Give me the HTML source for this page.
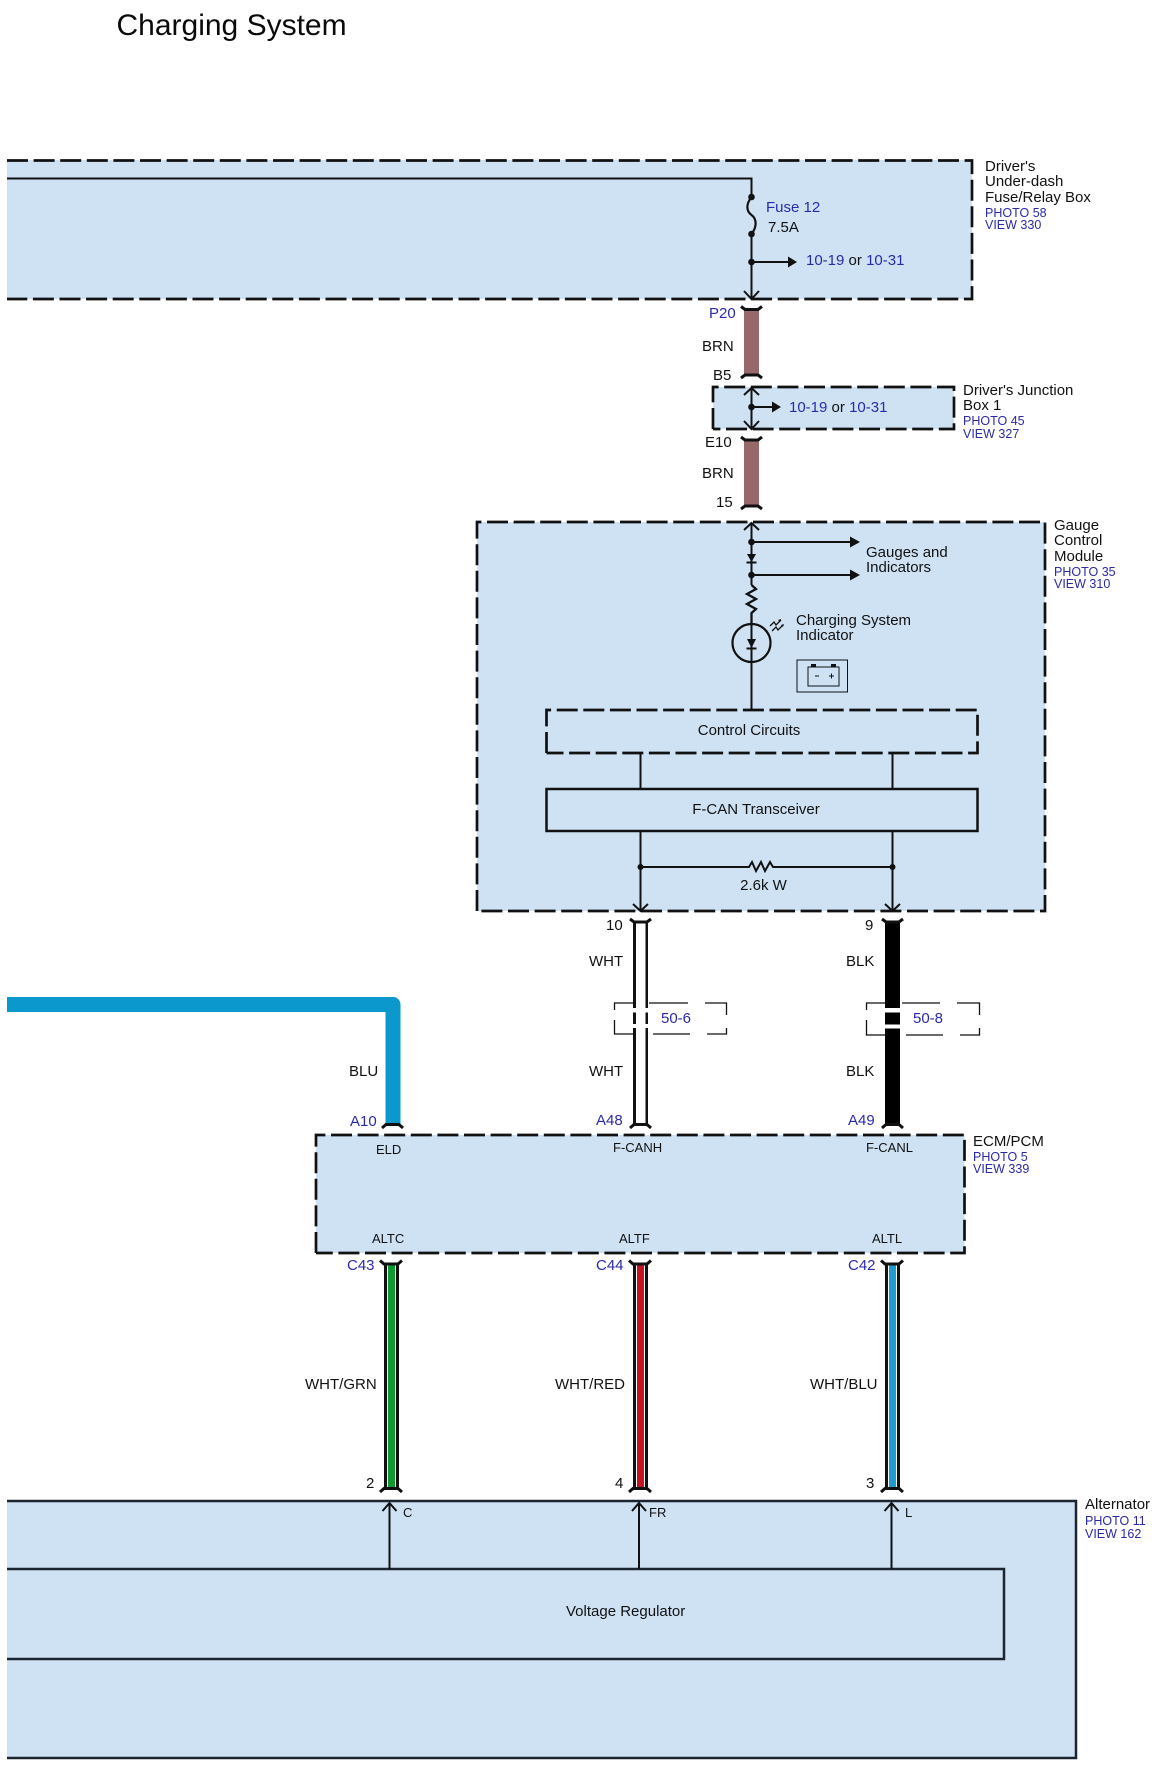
<!DOCTYPE html>
<html><head><meta charset="utf-8"><title>Charging System</title>
<style>
html,body{margin:0;padding:0;background:#fff;width:1167px;height:1774px;overflow:hidden}
svg{display:block}
text{font-family:"Liberation Sans",sans-serif;font-size:15px;fill:#111}
.b{fill:#2a2aa8}
.s{font-size:12.5px}
.m{font-size:13px}
.box{fill:#cfe2f4}
.d{fill:none;stroke:#111;stroke-width:2.7;stroke-dasharray:21 5.6}
.l{fill:none;stroke:#111;stroke-width:2}
.t{fill:none;stroke:#111;stroke-width:1.3}
.c{fill:none;stroke:#111;stroke-width:3}
.dot{fill:#111}
</style></head><body>
<svg width="1167" height="1774" viewBox="0 0 1167 1774" xmlns="http://www.w3.org/2000/svg">
<rect width="1167" height="1774" fill="#fff"/>
<text x="116.500" y="35" style="font-size:30px;fill:#0a0a0a">Charging System</text>

<!-- Fuse box -->
<rect class="box" x="7" y="160" width="965" height="139"/>
<path class="d" d="M7 160.500H972V299H7"/>
<path class="l" d="M7 178.500H751.500V197"/>
<path class="l" style="stroke-width:2.200" d="M751.500 197C746 204 746 211 751.500 215C757 219 757 227 751.500 234"/>
<path class="l" d="M751.500 234V299"/>
<path class="l" d="M744 291L751.500 299L759 291"/>
<circle class="dot" cx="751.500" cy="197" r="3.300"/><circle class="dot" cx="751.500" cy="234" r="3.300"/><circle class="dot" cx="751.500" cy="262" r="3.300"/>
<path class="l" d="M751.500 262H790"/><path class="dot" d="M788 256.500L797 262L788 267.500Z"/>
<text class="b" x="766" y="212">Fuse 12</text>
<text x="768" y="232">7.5A</text>
<text x="806" y="265"><tspan class="b">10-19</tspan> or <tspan class="b">10-31</tspan></text>
<text x="985" y="171">Driver's</text><text x="985" y="186">Under-dash</text><text x="985" y="202">Fuse/Relay Box</text>
<text class="b s" x="985" y="217">PHOTO 58</text><text class="b s" x="985" y="229">VIEW 330</text>

<!-- Brown wires -->
<rect x="744" y="309" width="15" height="66" fill="#96686a"/>
<rect x="744" y="439" width="15" height="67" fill="#96686a"/>
<path class="c" d="M741 306.500L745 309.500H758L762 306.500"/>
<path class="c" d="M741 378L745 375H758L762 378"/>
<path class="c" d="M741 437L745 440H758L762 437"/>
<path class="c" d="M741 509L745 506H758L762 509"/>
<text class="b" x="709" y="318">P20</text>
<text x="702" y="351">BRN</text>
<text x="713" y="380">B5</text>
<text x="705" y="447">E10</text>
<text x="702" y="478">BRN</text>
<text x="716" y="507">15</text>

<!-- Junction box -->
<rect class="box" x="713" y="387" width="241" height="42"/>
<path class="d" d="M713 429V387H954V429H713"/>
<path class="l" d="M751.500 388V429M744 395L751.500 388L759 395M744 421L751.500 429L759 421"/>
<circle class="dot" cx="751.500" cy="407" r="3.300"/>
<path class="l" d="M751.500 407H775"/><path class="dot" d="M772 401.500L781 407L772 412.500Z"/>
<text x="789" y="412"><tspan class="b">10-19</tspan> or <tspan class="b">10-31</tspan></text>
<text x="963" y="395">Driver's Junction</text><text x="963" y="410">Box 1</text>
<text class="b s" x="963" y="425">PHOTO 45</text><text class="b s" x="963" y="438">VIEW 327</text>

<!-- Gauge module -->
<rect class="box" x="477" y="522" width="568" height="389"/>
<path class="d" d="M477 911V522H1045V911H477"/>
<path class="l" d="M751.500 523V585M744 530L751.500 523L759 530"/>
<circle class="dot" cx="751.500" cy="542" r="3.300"/><circle class="dot" cx="751.500" cy="575" r="3.300"/>
<path class="l" d="M751.500 542H852M751.500 575H852"/>
<path class="dot" d="M850 536.500L860 542L850 547.500ZM850 569.500L860 575L850 580.500Z"/>
<path class="dot" d="M747 554H756L751.500 562Z"/><path class="l" d="M746.500 562.500H756.500"/>
<text x="866" y="557">Gauges and</text><text x="866" y="572">Indicators</text>
<path class="l" style="stroke-width:2.300" d="M751.500 585L756 589L747 594L756 599L747 604L756 609L751.500 613V624"/>
<circle cx="751.500" cy="643" r="19" fill="none" stroke="#111" stroke-width="2.200"/>
<path class="l" d="M751.500 624V710"/>
<path class="dot" d="M747 639H756L751.500 648Z"/><path class="l" d="M746.500 648.500H756.500"/>
<path class="t" d="M770 626L774 622L776 625L781 620M772 631L776 627L778 630L783 625"/>
<path class="dot" d="M781 619L778 620L780 622ZM784 624L781 625L783 627Z"/>
<text x="796" y="625">Charging System</text><text x="796" y="640">Indicator</text>
<rect x="797" y="660" width="50.500" height="32" fill="none" stroke="#111" stroke-width="1"/>
<rect x="808" y="667" width="31" height="19" fill="none" stroke="#111" stroke-width="1"/>
<rect x="811" y="664" width="5" height="3" fill="#111"/><rect x="831" y="664" width="5" height="3" fill="#111"/>
<path d="M815 676H819M829 676H834M831.500 673.500V678.500" fill="none" stroke="#111" stroke-width="1"/>

<rect class="box" x="546.500" y="710" width="431" height="43"/>
<path class="d" d="M546.500 753V710H977.500V753H546.500"/>
<text x="749" y="735" text-anchor="middle">Control Circuits</text>
<path class="l" d="M640.500 753V789M892.500 753V789"/>
<rect x="546.500" y="789" width="431" height="42" fill="#cfe2f4" stroke="#111" stroke-width="2.500"/>
<text x="756" y="814" text-anchor="middle">F-CAN Transceiver</text>
<path class="l" d="M640.500 831V911M892.500 831V911M633 904L640.500 911L648 904M885 904L892.500 911L900 904"/>
<circle class="dot" cx="640.500" cy="867" r="3"/><circle class="dot" cx="892.500" cy="867" r="3"/>
<path class="l" d="M640.500 867H749L752 862L756 871L761 862L765 871L770 862L773 867H892.500"/>
<text x="763.500" y="890" text-anchor="middle">2.6k W</text>
<text x="1054" y="530">Gauge</text><text x="1054" y="545">Control</text><text x="1054" y="561">Module</text>
<text class="b s" x="1054" y="576">PHOTO 35</text><text class="b s" x="1054" y="588">VIEW 310</text>

<!-- Upper CAN wires -->
<rect x="633" y="921" width="15" height="204" fill="#111"/><rect x="636" y="921" width="9.500" height="204" fill="#fff"/>
<rect x="885" y="921" width="15" height="204" fill="#000"/>
<path class="c" d="M630 919L634 922H647L651 919"/>
<path class="c" d="M882 919L886 922H899L903 919"/>
<path class="c" d="M630 1128L634 1124.500H647L651 1128"/>
<path class="c" d="M882 1128L886 1124.500H899L903 1128"/>
<text x="606" y="930">10</text><text x="865" y="930">9</text>
<text x="589" y="966">WHT</text><text x="846" y="966">BLK</text>
<text x="589" y="1076">WHT</text><text x="846" y="1076">BLK</text>
<text class="b" x="596" y="1125">A48</text><text class="b" x="848" y="1125">A49</text>

<!-- Splices -->
<rect x="631" y="1008" width="19" height="4.500" fill="#fff"/><rect x="631" y="1024" width="19" height="4" fill="#fff"/>
<rect x="883" y="1008" width="19" height="4.500" fill="#fff"/><rect x="883" y="1024.500" width="19" height="4" fill="#fff"/>
<path fill="none" stroke="#111" stroke-width="1.300" d="M633 1003H614.500V1010M614.500 1020V1034H633M649 1003H688M705 1003H726.500V1015M726.500 1028V1034H707M690 1034H653"/>
<path fill="none" stroke="#111" stroke-width="1.300" d="M885 1003H866.500V1010M866.500 1020V1035H885M902 1003H940M957 1003H979.500V1015M979.500 1028V1035H960M943 1035H906"/>
<text class="b" x="661" y="1023">50-6</text><text class="b" x="913" y="1023">50-8</text>

<!-- Blue wire -->
<path d="M7 1004.500H393V1125" fill="none" stroke="#0b98cd" stroke-width="15" stroke-linejoin="round"/>
<path class="c" d="M382 1128L386 1124.500H399L403 1128"/>
<text x="349" y="1076">BLU</text>
<text class="b" x="350" y="1126">A10</text>

<!-- ECM -->
<rect class="box" x="316" y="1135" width="648.500" height="118"/>
<path class="d" d="M316 1253V1135H964.500V1253H316"/>
<text class="m" x="376" y="1154">ELD</text><text class="m" x="613" y="1152">F-CANH</text><text class="m" x="866" y="1152">F-CANL</text>
<text class="m" x="372" y="1243">ALTC</text><text class="m" x="619" y="1243">ALTF</text><text class="m" x="872" y="1243">ALTL</text>
<text x="973" y="1146">ECM/PCM</text>
<text class="b s" x="973" y="1161">PHOTO 5</text><text class="b s" x="973" y="1173">VIEW 339</text>

<!-- Lower wires -->
<rect x="384" y="1264" width="15" height="225" fill="#111"/><rect x="387" y="1264" width="9" height="225" fill="#fff"/><rect x="388" y="1264" width="7" height="225" fill="#0e9a2e"/>
<rect x="633" y="1264" width="15" height="225" fill="#111"/><rect x="636" y="1264" width="9" height="225" fill="#fff"/><rect x="637" y="1264" width="7" height="225" fill="#c5131f"/>
<rect x="885" y="1264" width="15" height="225" fill="#111"/><rect x="888" y="1264" width="9" height="225" fill="#fff"/><rect x="889" y="1264" width="7" height="225" fill="#1e9bcf"/>
<path class="c" d="M380 1260.500L384 1264H398L402 1260.500"/>
<path class="c" d="M629 1260.500L633 1264H647L651 1260.500"/>
<path class="c" d="M881 1260.500L885 1264H899L903 1260.500"/>
<path class="c" d="M380 1492L384 1488.500H398L402 1492"/>
<path class="c" d="M629 1492L633 1488.500H647L651 1492"/>
<path class="c" d="M881 1492L885 1488.500H899L903 1492"/>
<text class="b" x="347" y="1270">C43</text><text class="b" x="596" y="1270">C44</text><text class="b" x="848" y="1270">C42</text>
<text x="305" y="1389">WHT/GRN</text><text x="555" y="1389">WHT/RED</text><text x="810" y="1389">WHT/BLU</text>
<text x="366" y="1488">2</text><text x="615" y="1488">4</text><text x="866" y="1488">3</text>

<!-- Alternator -->
<rect class="box" x="7" y="1501" width="1069" height="257"/>
<path fill="none" stroke="#1a2530" stroke-width="2.500" d="M7 1501H1076V1758H7"/>
<path fill="none" stroke="#1a2530" stroke-width="2.500" d="M7 1569H1004V1659H7"/>
<path class="l" d="M389.500 1569V1503M382.500 1511L389.500 1503L396.500 1511"/>
<path class="l" d="M639 1569V1503M632 1511L639 1503L646 1511"/>
<path class="l" d="M891.500 1569V1503M884.500 1511L891.500 1503L898.500 1511"/>
<text class="m" x="403" y="1517">C</text><text class="m" x="649" y="1517">FR</text><text class="m" x="905" y="1517">L</text>
<text x="566" y="1616" style="font-size:15px">Voltage Regulator</text>
<text x="1085" y="1509">Alternator</text>
<text class="b s" x="1085" y="1525">PHOTO 11</text><text class="b s" x="1085" y="1538">VIEW 162</text>
</svg>
</body></html>
